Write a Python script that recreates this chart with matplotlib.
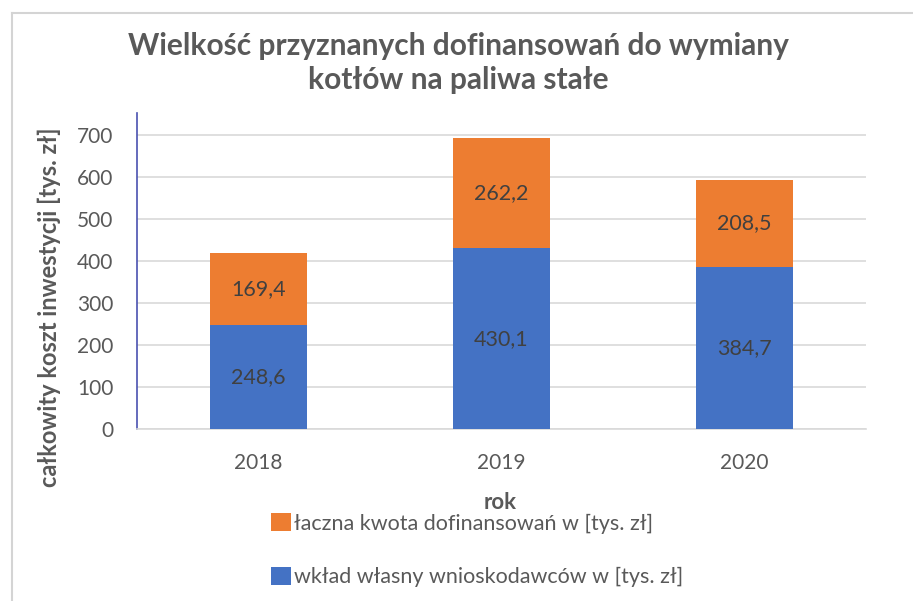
import matplotlib
matplotlib.use("Agg")
import matplotlib.pyplot as plt
from matplotlib.lines import Line2D
import numpy as np

plt.rcParams['font.family'] = ['Lato', 'DejaVu Sans']

years = ["2018", "2019", "2020"]
own_contribution = [248.6, 430.1, 384.7]
subsidy = [169.4, 262.2, 208.5]
label_own = "wkład własny wnioskodawców w [tys. zł]"
label_sub = "łaczna kwota dofinansowań w [tys. zł]"
title = "Wielkość przyznanych dofinansowań do wymiany\nkotłów na paliwa stałe"
y_ticks = [0, 100, 200, 300, 400, 500, 600, 700]

BLUE = "#4472C4"
ORANGE = "#ED7D31"
GRAY = "#595959"

W, H = 913, 601
fig = plt.figure(figsize=(W / 100, H / 100), dpi=100)
fig.patch.set_facecolor("white")

ax = fig.add_axes([137 / W, 1 - 429 / H, (866 - 137) / W, (429 - 113) / H])
x = np.arange(len(years))
b1 = ax.bar(x, own_contribution, width=0.4, color=BLUE, zorder=3)
b2 = ax.bar(x, subsidy, width=0.4, bottom=own_contribution, color=ORANGE, zorder=3)

fmt = lambda v: f"{v:.1f}".replace(".", ",")
ax.bar_label(b1, labels=[fmt(v) for v in own_contribution], label_type="center",
             color="#404040", fontsize=15.5)
ax.bar_label(b2, labels=[fmt(v) for v in subsidy], label_type="center",
             color="#404040", fontsize=15.5)

ax.set_xlim(-0.5, len(years) - 0.5)
ax.set_ylim(0, 752)
ax.set_yticks(y_ticks)
ax.set_yticklabels([str(t) for t in y_ticks])
ax.set_xticks(x)
ax.set_xticklabels(years)
ax.tick_params(axis="both", length=0, labelsize=15, labelcolor=GRAY)
ax.tick_params(axis="y", pad=17)
ax.tick_params(axis="x", pad=17)
ax.grid(axis="y", color="#d9d9d9", linewidth=1.2, zorder=0)
for s in ["top", "right"]:
    ax.spines[s].set_visible(False)
ax.spines["bottom"].set_color("#d9d9d9")
ax.spines["bottom"].set_linewidth(1.2)
ax.spines["left"].set_color("#4a52b0")
ax.spines["left"].set_linewidth(1.2)

ax.set_ylabel("całkowity koszt inwestycji [tys. zł]", fontsize=17, fontweight="bold", color=GRAY)
ax.yaxis.set_label_coords(-0.104, 0.385)
ax.set_xlabel("rok", fontsize=16, fontweight="bold", color=GRAY)
ax.xaxis.set_label_coords(0.498, -0.2)

fig.text(458 / W, 1 - 63 / H, title, ha="center", va="center", fontsize=21.5,
         fontweight="bold", color=GRAY, linespacing=1.3)

leg = fig.legend([b2, b1], [label_sub, label_own], loc="upper left",
                 bbox_to_anchor=(252 / W, 1 - 494 / H), frameon=False, ncol=1,
                 fontsize=15.5, labelcolor=GRAY, handlelength=0.9, handleheight=0.9,
                 handletextpad=0.15, labelspacing=1.55)

fig.add_artist(Line2D([12 / W, 12 / W], [0, 1 - 13 / H], color="#d4d4d4", lw=1.5))
fig.add_artist(Line2D([12 / W, 1], [1 - 13 / H, 1 - 13 / H], color="#d4d4d4", lw=1.5))

fig.savefig("out.png", dpi=100, facecolor="white")
